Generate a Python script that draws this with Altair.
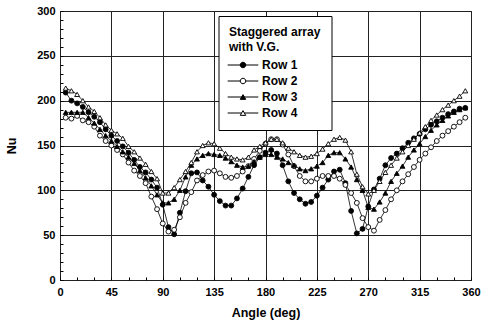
import altair as alt
import pandas as pd

# Measurement angles (deg) around the tube and Nusselt numbers for each row
angles = list(range(5, 360, 5))

row1 = [209, 200, 197, 193, 187, 182, 176, 168, 161, 155,
        149, 142, 134, 126, 120, 112, 103, 84, 59, 51,
        75, 99, 119, 120, 111, 104, 95, 88, 83, 83,
        91, 102, 115, 128, 137, 142, 145, 141, 128, 110,
        97, 90, 85, 87, 94, 103, 112, 121, 123, 108,
        77, 52, 57, 82, 101, 113, 128, 136, 141, 147,
        153, 158, 163, 168, 173, 177, 181, 185, 188, 191, 192]

row2 = [181, 180, 183, 178, 176, 171, 161, 155, 150, 145,
        140, 131, 122, 116, 108, 93, 79, 63, 54, 56,
        70, 86, 98, 111, 117, 121, 122, 119, 115, 114,
        116, 121, 127, 135, 144, 152, 157, 157, 151, 140,
        127, 116, 110, 110, 113, 116, 116, 116, 113, 106,
        97, 86, 69, 59, 55, 67, 78, 90, 100, 110,
        118, 126, 134, 141, 148, 155, 161, 166, 171, 176, 181]

row3 = [187, 187, 187, 187, 181, 175, 168, 161, 155, 149,
        143, 137, 130, 122, 114, 105, 95, 86, 86, 90,
        100, 115, 128, 135, 139, 141, 140, 139, 136, 132,
        128, 126, 127, 132, 137, 140, 140, 137, 135, 131,
        128, 124, 122, 124, 127, 131, 139, 142, 142, 135,
        126, 112, 100, 81, 79, 87, 97, 110, 119, 127,
        137, 145, 152, 160, 167, 173, 178, 183, 187, 190, 192]

row4 = [214, 211, 207, 200, 193, 188, 181, 173, 167, 163,
        158, 149, 143, 136, 129, 121, 113, 97, 97, 103,
        112, 121, 131, 143, 150, 153, 152, 147, 141, 137,
        135, 134, 137, 145, 149, 153, 157, 157, 153, 147,
        143, 139, 137, 138, 141, 146, 152, 157, 159, 156,
        143, 118, 104, 96, 100, 110, 120, 128, 136, 143,
        150, 157, 164, 171, 178, 184, 190, 195, 200, 205, 211]

series_names = ["Row 1", "Row 2", "Row 3", "Row 4"]
series_values = [row1, row2, row3, row4]

x_major = [0, 45, 90, 135, 180, 225, 270, 315, 360]
x_minor = list(range(0, 361, 15))
y_major = [0, 50, 100, 150, 200, 250, 300]
y_minor = list(range(0, 301, 10))

records = []
for name, vals in zip(series_names, series_values):
    for a, v in zip(angles, vals):
        records.append({"angle": a, "nu": v, "series": name})
df = pd.DataFrame(records)

FONT = "Liberation Sans"

marker_shapes = ["circle", "circle", "triangle-up", "triangle-up"]
marker_fills = ["black", "white", "black", "white"]

# Legend keys: a short line segment running through each marker
circ = ("M1,0C1,0.5523,0.5523,1,0,1C-0.5523,1,-1,0.5523,-1,0"
        "C-1,-0.5523,-0.5523,-1,0,-1C0.5523,-1,1,-0.5523,1,0Z")
tri = "M0,-0.866L1,0.866L-1,0.866Z"
key_shapes = [
    "M-5.6,0H5.6" + circ,
    "M-5.6,0H-1M1,0H5.6" + circ,
    "M-5.6,0H5.6" + tri,
    "M-5.6,0H-0.5M0.5,0H5.6" + tri,
]

x_scale = alt.Scale(domain=[0, 360], nice=False)
y_scale = alt.Scale(domain=[0, 300], nice=False)

label_style = dict(labelFont=FONT, labelFontSize=11, labelFontWeight="bold",
                   labelColor="black")
title_style = dict(titleFont=FONT, titleFontSize=12.5, titleFontWeight="bold",
                   titleColor="black")

base = alt.Chart(df)

lines = base.mark_line(color="black", strokeWidth=0.8).encode(
    x=alt.X("angle:Q", scale=x_scale, axis=alt.Axis(
        orient="bottom", values=x_major, grid=True, gridColor="#222",
        gridWidth=1, ticks=False, domain=False, labelPadding=6,
        labelFlush=False, labelOverlap=False, title="Angle (deg)",
        titleY=32, titleBaseline="middle", **label_style, **title_style)),
    y=alt.Y("nu:Q", scale=y_scale, axis=alt.Axis(
        orient="left", values=y_major, grid=True, gridColor="#222",
        gridWidth=1, ticks=False, domain=False, labelPadding=5,
        labelFlush=False, labelOverlap=False, title="Nu",
        titleX=-48.5, titleY=134.5, titleAngle=270, titleBaseline="middle",
        **label_style, **title_style)),
    detail="series:N",
)

# Data markers, plus inward minor ticks on the bottom and left axes
points = base.mark_point(size=24, strokeWidth=0.9, opacity=1, filled=False).encode(
    x=alt.X("angle:Q", scale=x_scale, axis=alt.Axis(
        orient="bottom", values=x_minor, offset=-3, tickSize=3,
        tickColor="black", tickWidth=1, labels=False, domain=False,
        grid=False, title=None)),
    y=alt.Y("nu:Q", scale=y_scale, axis=alt.Axis(
        orient="left", values=y_minor, offset=-3, tickSize=3,
        tickColor="black", tickWidth=1, labels=False, domain=False,
        grid=False, title=None)),
    shape=alt.Shape("series:N", scale=alt.Scale(domain=series_names, range=marker_shapes), legend=None),
    fill=alt.Fill("series:N", scale=alt.Scale(domain=series_names, range=marker_fills), legend=None),
    stroke=alt.value("black"),
)

legend = alt.Legend(
    title=["Staggered array", "with V.G."], orient="none",
    legendX=158.5, legendY=5,
    titleFont=FONT, titleFontSize=12, titleFontWeight="bold", titleColor="black",
    titleLineHeight=15.5, titlePadding=5,
    labelFont=FONT, labelFontSize=12, labelFontWeight="bold", labelColor="black",
    symbolSize=30, symbolStrokeWidth=1, symbolStrokeColor="black",
    symbolFillColor="white", symbolOpacity=1,
    symbolOffset=8, labelOffset=13, rowPadding=4,
    strokeColor="black", fillColor="white", padding=10.5,
)

key = base.mark_point(size=30, opacity=0, filled=False).encode(
    x=alt.X("angle:Q", scale=x_scale, axis=None),
    y=alt.Y("nu:Q", scale=y_scale, axis=None),
    shape=alt.Shape("series:N", scale=alt.Scale(domain=series_names, range=key_shapes), legend=legend),
    fill=alt.Fill("series:N", scale=alt.Scale(domain=series_names, range=marker_fills), legend=legend),
    stroke=alt.value("black"),
)

chart = alt.layer(lines, points, key).resolve_scale(
    shape="independent", fill="independent"
).resolve_axis(
    x="independent", y="independent"
).properties(
    width=411, height=269,
    padding={"left": 60, "top": 11, "right": 15, "bottom": 44},
    autosize=alt.AutoSizeParams(type="none"),
    background="white",
).configure_view(stroke="black", strokeWidth=1)

chart.save("out.html", embed_options={"renderer": "svg", "actions": False})
